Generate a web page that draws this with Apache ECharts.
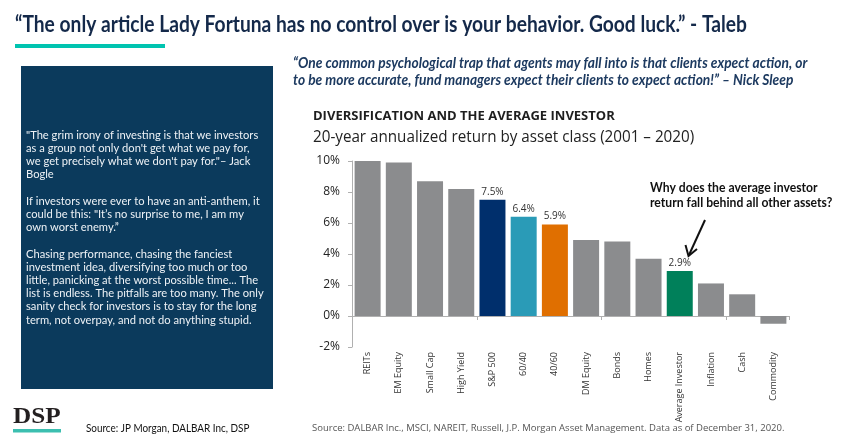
<!DOCTYPE html>
<html><head><meta charset="utf-8">
<script src="https://cdn.jsdelivr.net/npm/echarts@6/dist/echarts.min.js"></script>
<style>html,body{margin:0;padding:0;background:#fff;}#c{width:851px;height:440px;}</style>
</head><body><div id="c"></div>
<script>
const categories = ['REITs','EM Equity','Small Cap','High Yield','S&P 500','60/40','40/60','DM Equity','Bonds','Homes','Average Investor','Inflation','Cash','Commodity'];
const values = [10.0, 9.9, 8.7, 8.2, 7.5, 6.4, 5.9, 4.9, 4.8, 3.7, 2.9, 2.1, 1.4, -0.5];
const labeledCategories = ['S&P 500','60/40','40/60','Average Investor'];
const yMin = -2, yMax = 10, yStep = 2;

const barColors = {'S&P 500':'#002f6c','60/40':'#2a9bb7','40/60':'#e06f00','Average Investor':'#00805a'};
const grayBar = '#8b8c8e';

const leftLines = [
 '"The grim irony of investing is that we investors',
 'as a group not only don\'t get what we pay for,',
 'we get precisely what we don\'t pay for."\u2013 Jack',
 'Bogle',
 '',
 'If investors were ever to have an anti-anthem, it',
 'could be this: "It\u2019s no surprise to me, I am my',
 'own worst enemy.\u201d',
 '',
 'Chasing performance, chasing the fanciest',
 'investment idea, diversifying too much or too',
 'little, panicking at the worst possible time... The',
 'list is endless. The pitfalls are too many. The only',
 'sanity check for investors is to stay for the long',
 'term, not overpay, and not do anything stupid.'
];

const chart = echarts.init(document.getElementById('c'), null, {renderer:'canvas'});
const CAL = 'Lato, "Open Sans", sans-serif';
const JPM = '"Open Sans", "Noto Sans", sans-serif';

function txt(x, y, text, opts) {
  return {
    type:'text', x:x, y:y, scaleX: opts.sx || 1,
    style: {text:text, fill: opts.fill || '#222', fontSize: opts.size, fontWeight: opts.weight || 'normal',
      fontStyle: opts.style || 'normal', fontFamily: opts.family || CAL, align: opts.align || 'left', verticalAlign:'middle'}
  };
}

const graphics = [
  txt(15, 25, '\u201cThe only article Lady Fortuna has no control over is your behavior. Good luck.\u201d - Taleb', {size:22, weight:'bold', fill:'#14294a', sx:0.873}),
  {type:'rect', shape:{x:15, y:44, width:150, height:4}, style:{fill:'#00c4b0'}},
  txt(293, 63, '\u201cOne common psychological trap that agents may fall into is that clients expect action, or', {size:14.5, weight:'bold', style:'italic', fill:'#1d3a60', sx:0.95}),
  txt(293, 80, 'to be more accurate, fund managers expect their clients to expect action!\u201d \u2013 Nick Sleep', {size:14.5, weight:'bold', style:'italic', fill:'#1d3a60', sx:0.95}),
  txt(313, 116, 'DIVERSIFICATION AND THE AVERAGE INVESTOR', {size:13, weight:'bold', family:JPM, fill:'#1e1e1e', sx:1.0}),
  txt(313, 137, '20-year annualized return by asset class (2001 \u2013 2020)', {size:16, family:JPM, fill:'#222', sx:0.95}),
  txt(650, 188, 'Why does the average investor', {size:13, weight:'bold', fill:'#111', sx:0.937}),
  txt(650, 203, 'return fall behind all other assets?', {size:13, weight:'bold', fill:'#111', sx:0.937}),
  {type:'line', shape:{x1:705, y1:220, x2:689, y2:255}, style:{stroke:'#111', lineWidth:2}},
  {type:'polyline', shape:{points:[[685.5,245],[688.5,256],[697,249]]}, style:{stroke:'#111', lineWidth:2, fill:null}},
  {type:'rect', shape:{x:21, y:66, width:252, height:323}, style:{fill:'#0b3a5c'}},
  txt(312, 428, 'Source: DALBAR Inc., MSCI, NAREIT, Russell, J.P. Morgan Asset Management. Data as of December 31, 2020.', {size:9.5, family:JPM, fill:'#555', sx:1.0}),
  txt(86, 428, 'Source: JP Morgan, DALBAR Inc, DSP', {size:11, fill:'#111', sx:0.9}),
  txt(13, 416.5, 'DSP', {size:24, weight:'bold', family:'"Liberation Serif", "DejaVu Serif", serif', fill:'#231f20', sx:1.05}),
  {type:'rect', shape:{x:13, y:429, width:48, height:3.5}, style:{fill:'#3cbfb0'}}
];
leftLines.forEach((l, i) => {
  if (l) graphics.push(txt(26, 135 + i*13.2, l, {size:12, fill:'#eef2f6', sx:0.93}));
});

const seriesData = categories.map((c, i) => ({
  value: values[i],
  itemStyle: {color: barColors[c] || grayBar},
  label: {show: labeledCategories.indexOf(c) >= 0}
}));

chart.setOption({
  animation:false,
  grid:{left:352, right:62, top:161, bottom:93, containLabel:false},
  xAxis:[{
    type:'category', data:categories, position:'bottom',
    axisLine:{show:false, onZero:false}, axisTick:{show:false},
    axisLabel:{rotate:90, fontSize:9, color:'#333', fontFamily:JPM, margin:5, interval:0}
  },{
    type:'category', data:categories, position:'bottom',
    axisLine:{show:true, onZero:true, lineStyle:{color:'#b0b0b0', width:1}},
    axisTick:{show:true, length:4, alignWithLabel:false, lineStyle:{color:'#b0b0b0'}},
    axisLabel:{show:false}
  }],
  yAxis:{
    type:'value', min:yMin, max:yMax, interval:yStep,
    axisLine:{show:true, lineStyle:{color:'#b0b0b0'}},
    axisTick:{show:true, length:4, lineStyle:{color:'#b0b0b0'}},
    splitLine:{show:false},
    axisLabel:{formatter:'{value}%', fontSize:12, color:'#222', fontFamily:JPM, margin:12}
  },
  series:[{
    type:'bar', xAxisIndex:0, data:seriesData, barWidth:26,
    label:{position:'top', distance:3, fontSize:10, color:'#333', fontFamily:JPM, formatter: p => p.value.toFixed(1) + '%'}
  }],
  graphic: graphics
});
</script></body></html>
